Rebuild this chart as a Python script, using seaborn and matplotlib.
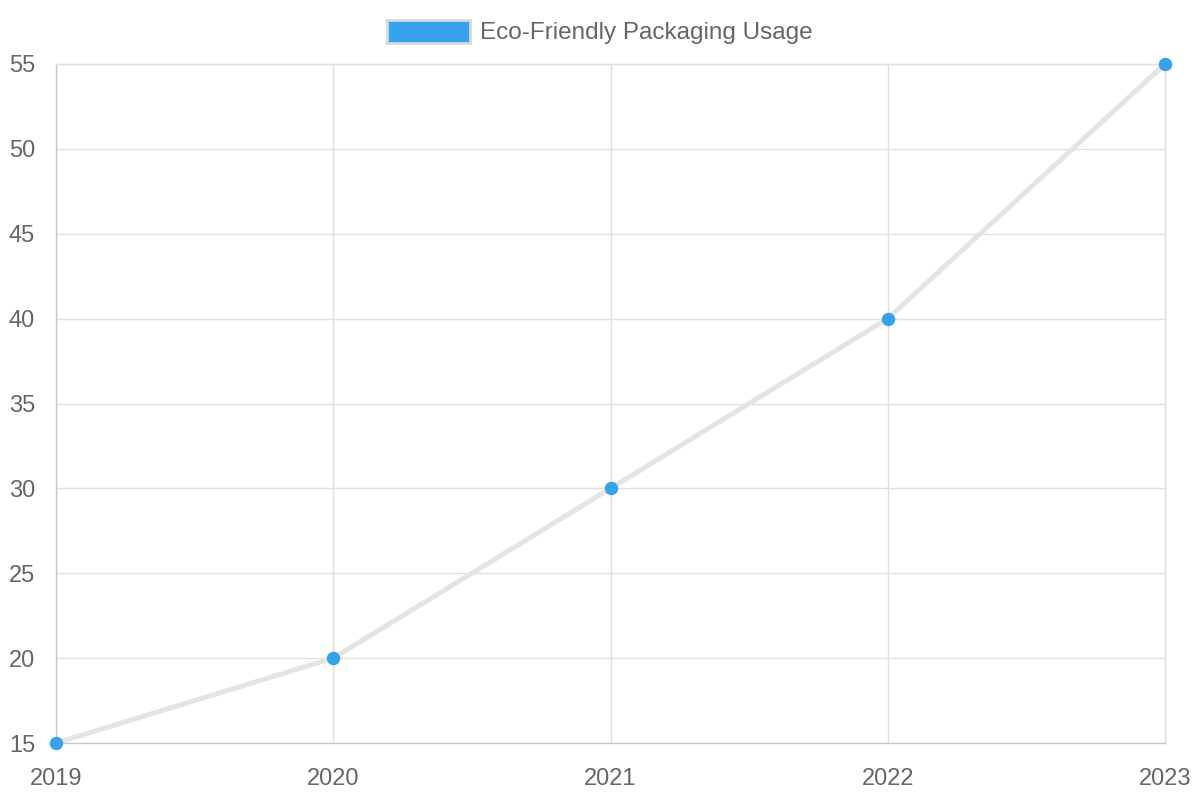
import matplotlib
matplotlib.use("Agg")
import matplotlib.pyplot as plt
import seaborn as sns
import pandas as pd
from matplotlib.patches import Patch

years = [2019, 2020, 2021, 2022, 2023]
usage = [15, 20, 30, 40, 55]
series_label = "Eco-Friendly Packaging Usage"
yticks = [15, 20, 25, 30, 35, 40, 45, 50, 55]

sns.set_theme(style="white")
plt.rcParams['font.family'] = ['Liberation Sans', 'DejaVu Sans']

df = pd.DataFrame({"year": years, "usage": usage})

fig = plt.figure(figsize=(12, 8), dpi=100)
ax = fig.add_axes([56/1200, 1-743/800, (1165-56)/1200, (743-64)/800])

sns.lineplot(data=df, x="year", y="usage", ax=ax, color="#e4e4e4", linewidth=3.6,
             solid_capstyle="round", zorder=3)
ax.scatter(df["year"], df["usage"], s=75, color="#36a2eb", edgecolor="#36a2eb",
           zorder=4, clip_on=False)

ax.set_xlim(years[0], years[-1])
ax.set_ylim(yticks[0], yticks[-1])
ax.set_xticks(years)
ax.set_xticklabels([str(y) for y in years])
ax.set_yticks(yticks)
ax.grid(True, color="#e0e0e0", linewidth=1)
ax.set_axisbelow(True)
ax.set_xlabel("")
ax.set_ylabel("")
for s in ["top", "right"]:
    ax.spines[s].set_color("#e0e0e0")
    ax.spines[s].set_linewidth(1)
for s in ["left", "bottom"]:
    ax.spines[s].set_color("#c8c8c8")
    ax.spines[s].set_linewidth(1)
ax.tick_params(axis="both", colors="#e0e0e0", labelcolor="#666666", labelsize=17,
               length=11, width=1, direction="out")
ax.tick_params(axis="y", pad=4)
ax.tick_params(axis="x", pad=7)

handle = Patch(facecolor="#36a2eb", edgecolor="#d8d8d8", linewidth=2)
leg = fig.legend(handles=[handle], labels=[series_label], loc="center",
                 bbox_to_anchor=(0.5, 1-32/800), frameon=False, fontsize=17.5,
                 handlelength=3.4, handleheight=1.1, handletextpad=0.45)
for t in leg.get_texts():
    t.set_color("#666666")

fig.savefig("out.png", dpi=100)
